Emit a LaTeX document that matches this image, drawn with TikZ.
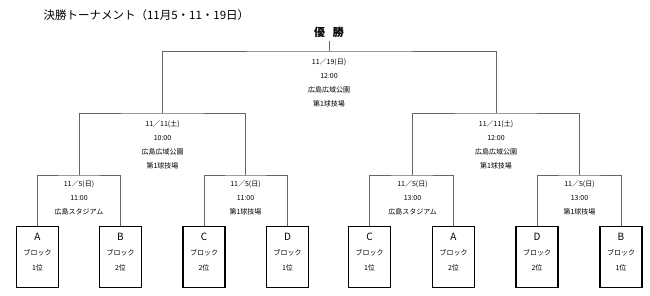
\documentclass[tikz,border=0pt]{standalone}
\usepackage{fontspec}
\setmainfont{Noto Sans CJK JP}
\usetikzlibrary{positioning}

\begin{document}
\begin{tikzpicture}[x=1pt,y=-1pt,font=\rmfamily\fontsize{7}{14}\selectfont,
 team/.style={draw,line width=1.3pt,minimum width=42pt,inner sep=0pt,align=center,
   text height=44pt,text depth=17pt,font=\rmfamily\fontsize{7}{15.2}\selectfont},
 info/.style={align=center,inner sep=0pt},
 br/.style={draw=black!60,line width=.8pt}]
\useasboundingbox (0,0) rectangle (650,296);
\node[anchor=west,font=\rmfamily\fontsize{11.5}{13}\selectfont] (title) at (40,15) {決勝トーナメント（11月5・11・19日）};
\node[font=\bfseries\fontsize{11}{12}\selectfont] (win) at (329,32) {優\hspace{0.7em}勝};
% teams
\node[team,anchor=north] (t1) at (37.5,226) {{\fontsize{10}{10}\selectfont A}\\ブロック\\1位};
\node[team,anchor=north] (t2) at (120.5,226) {{\fontsize{10}{10}\selectfont B}\\ブロック\\2位};
\node[team,anchor=north] (t3) at (204,226) {{\fontsize{10}{10}\selectfont C}\\ブロック\\2位};
\node[team,anchor=north] (t4) at (287.5,226) {{\fontsize{10}{10}\selectfont D}\\ブロック\\1位};
\node[team,anchor=north] (t5) at (369.5,226) {{\fontsize{10}{10}\selectfont C}\\ブロック\\1位};
\node[team,anchor=north] (t6) at (453.5,226) {{\fontsize{10}{10}\selectfont A}\\ブロック\\2位};
\node[team,anchor=north] (t7) at (537,226) {{\fontsize{10}{10}\selectfont D}\\ブロック\\2位};
\node[team,anchor=north] (t8) at (621,226) {{\fontsize{10}{10}\selectfont B}\\ブロック\\1位};
% bracket corners
\coordinate (q1) at (79,175);
\coordinate (q2) at (245.5,175);
\coordinate (q3) at (412.5,175);
\coordinate (q4) at (579.5,175);
\coordinate (s1) at (162.5,113);
\coordinate (s2) at (496,113);
\coordinate (f) at (329,51);
% match info
\node[info,below=5pt of q1] (m1) {11／5(日)\\11:00\\広島スタジアム};
\node[info,below=5pt of q2] (m2) {11／5(日)\\11:00\\第1球技場};
\node[info,below=5pt of q3] (m3) {11／5(日)\\13:00\\広島スタジアム};
\node[info,below=5pt of q4] (m4) {11／5(日)\\13:00\\第1球技場};
\node[info,below=7pt of s1] (m5) {11／11(土)\\10:00\\広島広域公園\\第1球技場};
\node[info,below=7pt of s2] (m6) {11／11(土)\\12:00\\広島広域公園\\第1球技場};
\node[info,below=7pt of f] (m7) {11／19(日)\\12:00\\広島広域公園\\第1球技場};
\draw[br] (t1.north) |- (q1) -| (t2.north);
\draw[br] (t3.north) |- (q2) -| (t4.north);
\draw[br] (t5.north) |- (q3) -| (t6.north);
\draw[br] (t7.north) |- (q4) -| (t8.north);
\draw[br] (q1) |- (s1) -| (q2);
\draw[br] (q3) |- (s2) -| (q4);
\draw[br] (s1) |- (f) -| (s2);
\draw[br] (f) -- (win.south);
\end{tikzpicture}
\end{document}
